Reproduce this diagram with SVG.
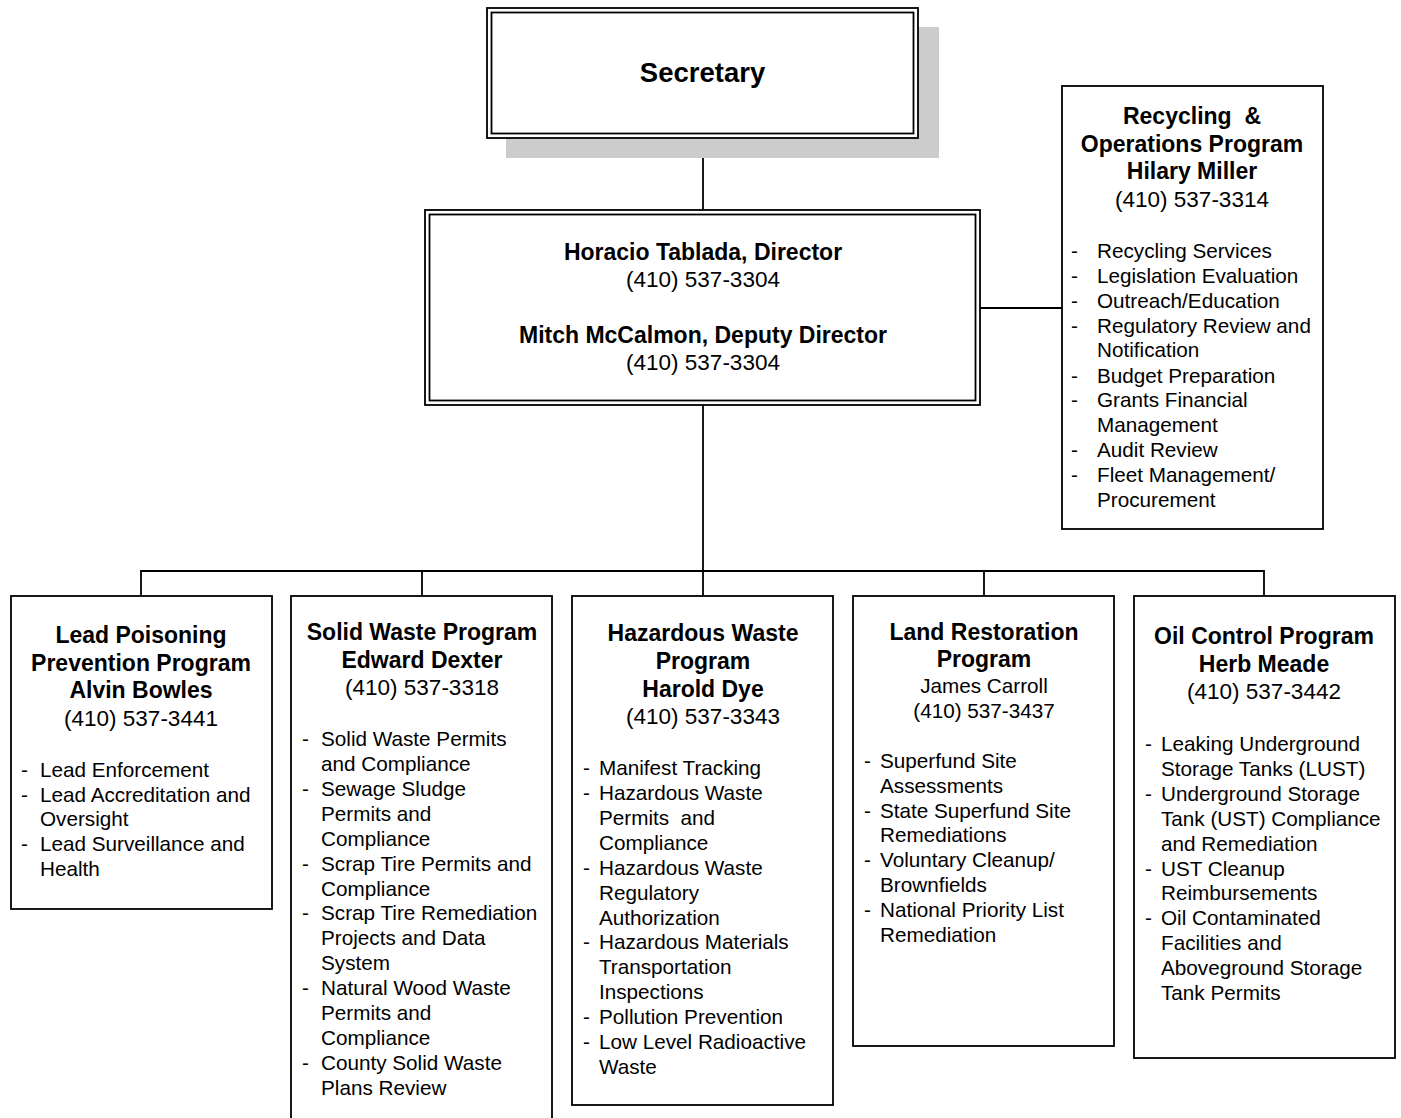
<svg xmlns="http://www.w3.org/2000/svg" width="1401" height="1118" viewBox="0 0 1401 1118">
<style>
.box{fill:#fff;stroke:#000;stroke-width:1.8}
.ln{fill:none;stroke:#000;stroke-width:1.8}
text{font-family:"Liberation Sans",Arial,sans-serif;fill:#000}
.h{font-weight:bold;font-size:23px;text-anchor:middle}
.p{font-size:22.5px;text-anchor:middle}
.ps{font-size:20.7px;text-anchor:middle}
.b{font-size:20.7px}
</style>
<rect width="1401" height="1118" fill="#fff"/>
<g id="connectors">
<path class="ln" d="M703 138V210"/>
<path class="ln" d="M703 405V571" stroke-width="2.2"/>
<path class="ln" d="M980 308H1062"/>
<path class="ln" d="M141 596V571H1264V596M422 571V596M703 571V596M984 571V596"/>
</g>
<g id="secretary">
<rect x="506" y="27" width="433" height="131" fill="#cccccc"/>
<rect class="box" x="487" y="8" width="431" height="130"/>
<rect class="box" x="491.5" y="12.5" width="422" height="121"/>
<text x="702.5" y="82" font-size="27.5" font-weight="bold" text-anchor="middle">Secretary</text>
</g>
<g id="director">
<rect class="box" x="425" y="210" width="555" height="195"/>
<rect class="box" x="429.5" y="214.5" width="546" height="186"/>
<text class="h" x="703" y="260">Horacio Tablada, Director</text>
<text class="p" x="703" y="287">(410) 537-3304</text>
<text class="h" x="703" y="343">Mitch McCalmon, Deputy Director</text>
<text class="p" x="703" y="370">(410) 537-3304</text>
</g>
<g id="recycling">
<rect class="box" x="1062" y="86" width="261" height="443"/>
<text class="h" x="1192" y="124" xml:space="preserve">Recycling  &amp;</text>
<text class="h" x="1192" y="152">Operations Program</text>
<text class="h" x="1192" y="179">Hilary Miller</text>
<text class="p" x="1192" y="207">(410) 537-3314</text>
<g class="b">
<text x="1071" y="257.5">-</text><text x="1097" y="257.5">Recycling Services</text>
<text x="1071" y="282.5">-</text><text x="1097" y="282.5">Legislation Evaluation</text>
<text x="1071" y="307.5">-</text><text x="1097" y="307.5">Outreach/Education</text>
<text x="1071" y="332.5">-</text><text x="1097" y="332.5">Regulatory Review and</text>
<text x="1097" y="357">Notification</text>
<text x="1071" y="382.5">-</text><text x="1097" y="382.5">Budget Preparation</text>
<text x="1071" y="407">-</text><text x="1097" y="407">Grants Financial</text>
<text x="1097" y="432">Management</text>
<text x="1071" y="457">-</text><text x="1097" y="457">Audit Review</text>
<text x="1071" y="482">-</text><text x="1097" y="482">Fleet Management/</text>
<text x="1097" y="507">Procurement</text>
</g>
</g>
<g id="lead">
<rect class="box" x="11" y="596" width="261" height="313"/>
<text class="h" x="141" y="643">Lead Poisoning</text>
<text class="h" x="141" y="671">Prevention Program</text>
<text class="h" x="141" y="698">Alvin Bowles</text>
<text class="p" x="141" y="726">(410) 537-3441</text>
<g class="b">
<text x="21" y="776.5">-</text><text x="40" y="776.5">Lead Enforcement</text>
<text x="21" y="801.5">-</text><text x="40" y="801.5">Lead Accreditation and</text>
<text x="40" y="825.5">Oversight</text>
<text x="21" y="850.5">-</text><text x="40" y="850.5">Lead Surveillance and</text>
<text x="40" y="875.5">Health</text>
</g>
</g>
<g id="solidwaste">
<rect class="box" x="291" y="596" width="261" height="530"/>
<text class="h" x="422" y="640">Solid Waste Program</text>
<text class="h" x="422" y="668">Edward Dexter</text>
<text class="p" x="422" y="695">(410) 537-3318</text>
<g class="b">
<text x="302" y="745.5">-</text><text x="321" y="745.5">Solid Waste Permits</text>
<text x="321" y="770.5">and Compliance</text>
<text x="302" y="795.5">-</text><text x="321" y="795.5">Sewage Sludge</text>
<text x="321" y="820.5">Permits and</text>
<text x="321" y="845.5">Compliance</text>
<text x="302" y="870.5">-</text><text x="321" y="870.5">Scrap Tire Permits and</text>
<text x="321" y="895.5">Compliance</text>
<text x="302" y="919.5">-</text><text x="321" y="919.5">Scrap Tire Remediation</text>
<text x="321" y="944.5">Projects and Data</text>
<text x="321" y="969.5">System</text>
<text x="302" y="994.5">-</text><text x="321" y="994.5">Natural Wood Waste</text>
<text x="321" y="1019.5">Permits and</text>
<text x="321" y="1044.5">Compliance</text>
<text x="302" y="1069.5">-</text><text x="321" y="1069.5">County Solid Waste</text>
<text x="321" y="1094.5">Plans Review</text>
</g>
</g>
<g id="hazardous">
<rect class="box" x="572" y="596" width="261" height="509"/>
<text class="h" x="703" y="641">Hazardous Waste</text>
<text class="h" x="703" y="669">Program</text>
<text class="h" x="703" y="697">Harold Dye</text>
<text class="p" x="703" y="724">(410) 537-3343</text>
<g class="b">
<text x="583" y="774.5">-</text><text x="599" y="774.5">Manifest Tracking</text>
<text x="583" y="799.5">-</text><text x="599" y="799.5">Hazardous Waste</text>
<text x="599" y="824.5" xml:space="preserve">Permits  and</text>
<text x="599" y="849.5">Compliance</text>
<text x="583" y="874.5">-</text><text x="599" y="874.5">Hazardous Waste</text>
<text x="599" y="899.5">Regulatory</text>
<text x="599" y="924.5">Authorization</text>
<text x="583" y="948.5">-</text><text x="599" y="948.5">Hazardous Materials</text>
<text x="599" y="973.5">Transportation</text>
<text x="599" y="998.5">Inspections</text>
<text x="583" y="1023.5">-</text><text x="599" y="1023.5">Pollution Prevention</text>
<text x="583" y="1048.5">-</text><text x="599" y="1048.5">Low Level Radioactive</text>
<text x="599" y="1073.5">Waste</text>
</g>
</g>
<g id="land">
<rect class="box" x="853" y="596" width="261" height="450"/>
<text class="h" x="984" y="640">Land Restoration</text>
<text class="h" x="984" y="667">Program</text>
<text class="ps" x="984" y="692.5">James Carroll</text>
<text class="ps" x="984" y="717.5">(410) 537-3437</text>
<g class="b">
<text x="864" y="767.5">-</text><text x="880" y="767.5">Superfund Site</text>
<text x="880" y="792.5">Assessments</text>
<text x="864" y="817.5">-</text><text x="880" y="817.5">State Superfund Site</text>
<text x="880" y="841.5">Remediations</text>
<text x="864" y="866.5">-</text><text x="880" y="866.5">Voluntary Cleanup/</text>
<text x="880" y="891.5">Brownfields</text>
<text x="864" y="916.5">-</text><text x="880" y="916.5">National Priority List</text>
<text x="880" y="941.5">Remediation</text>
</g>
</g>
<g id="oil">
<rect class="box" x="1134" y="596" width="261" height="462"/>
<text class="h" x="1264" y="644">Oil Control Program</text>
<text class="h" x="1264" y="672">Herb Meade</text>
<text class="p" x="1264" y="699">(410) 537-3442</text>
<g class="b">
<text x="1145" y="750.5">-</text><text x="1161" y="750.5">Leaking Underground</text>
<text x="1161" y="775.5">Storage Tanks (LUST)</text>
<text x="1145" y="800.5">-</text><text x="1161" y="800.5">Underground Storage</text>
<text x="1161" y="825.5">Tank (UST) Compliance</text>
<text x="1161" y="850.5">and Remediation</text>
<text x="1145" y="875.5">-</text><text x="1161" y="875.5">UST Cleanup</text>
<text x="1161" y="899.5">Reimbursements</text>
<text x="1145" y="924.5">-</text><text x="1161" y="924.5">Oil Contaminated</text>
<text x="1161" y="949.5">Facilities and</text>
<text x="1161" y="974.5">Aboveground Storage</text>
<text x="1161" y="999.5">Tank Permits</text>
</g>
</g>
</svg>
